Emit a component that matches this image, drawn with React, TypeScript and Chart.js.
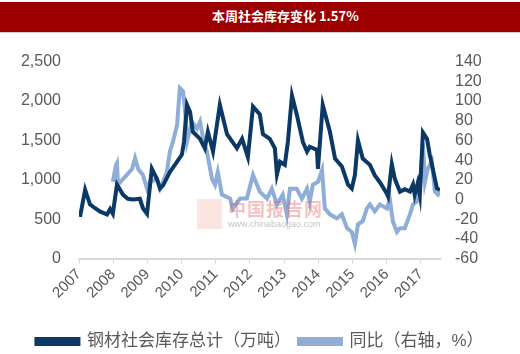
import React, { useEffect, useRef } from 'react';
import { Chart, registerables } from 'chart.js';

Chart.register(...registerables);

const titleText = '本周社会库存变化 1.57%';
const seriesNames = ['钢材社会库存总计（万吨）', '同比（右轴，%）'];
const yearTicks = [2007, 2008, 2009, 2010, 2011, 2012, 2013, 2014, 2015, 2016, 2017];

const stockDates = [
  2007.03, 2007.18, 2007.32, 2007.47, 2007.61, 2007.82, 2007.91, 2007.99,
  2008.11, 2008.29, 2008.43, 2008.58, 2008.78, 2008.87, 2008.99,
  2009.13, 2009.28, 2009.37, 2009.46, 2009.66, 2009.87, 2010.01, 2010.07,
  2010.16, 2010.25, 2010.33, 2010.54, 2010.68, 2010.77, 2010.92,
  2011.12, 2011.33, 2011.62, 2011.77, 2011.94,
  2012.09, 2012.29, 2012.38, 2012.58, 2012.73, 2012.79, 2012.88,
  2013.02, 2013.11, 2013.23, 2013.37, 2013.55, 2013.67, 2013.75, 2013.96, 2013.99,
  2014.13, 2014.34, 2014.49, 2014.69, 2014.87, 2014.98,
  2015.07, 2015.16, 2015.30, 2015.51, 2015.65, 2015.80,
  2016.01, 2016.04, 2016.15, 2016.24, 2016.39, 2016.53, 2016.68, 2016.77, 2016.82, 2016.91, 2016.97,
  2017.06, 2017.18, 2017.26, 2017.35, 2017.47, 2017.56,
];
const stockValues = [
  530, 875, 690, 640, 600, 560, 630, 570,
  940, 810, 760, 750, 760, 640, 570,
  1140, 1010, 890, 930, 1100, 1230, 1320, 1480,
  1950, 1860, 1610, 1520, 1400, 1610, 1360,
  1950, 1580, 1400, 1520, 1290,
  1930, 1830, 1580, 1520, 1400, 1070, 1230,
  1190, 1480, 2070, 1830, 1480, 1360, 1420, 1380, 1140,
  1950, 1610, 1270, 1170, 940, 890,
  1060, 1500, 1270, 1190, 1060, 970,
  820, 790, 1200, 1010, 850, 880, 850, 940, 810, 960, 810,
  1600, 1520, 1320, 1140, 890, 870,
];

const yoyDates = [
  2007.99, 2008.08, 2008.11, 2008.14, 2008.29, 2008.40, 2008.55, 2008.64, 2008.73, 2008.87, 2008.99,
  2009.08, 2009.28, 2009.37, 2009.46, 2009.57, 2009.66, 2009.75, 2009.87, 2009.95,
  2010.04, 2010.10, 2010.16, 2010.30, 2010.45, 2010.54, 2010.63, 2010.74, 2010.89, 2010.98,
  2011.06, 2011.18, 2011.42, 2011.50, 2011.71, 2011.91,
  2012.09, 2012.29, 2012.50, 2012.64, 2012.79, 2012.96,
  2013.08, 2013.17, 2013.37, 2013.52, 2013.67, 2013.75, 2013.84, 2013.99,
  2014.11, 2014.19, 2014.34, 2014.54, 2014.69, 2014.84, 2014.98,
  2015.07, 2015.16, 2015.30, 2015.42, 2015.51, 2015.65, 2015.80,
  2016.01, 2016.09, 2016.18, 2016.30, 2016.39, 2016.53, 2016.68, 2016.77, 2016.88, 2016.97,
  2017.06, 2017.12, 2017.20, 2017.32, 2017.41, 2017.50, 2017.56,
];
const yoyValues = [
  18, 35, 37, 15, 21, 25, 31, 42, 31, 25, 11,
  18, 21, 11, 18, 28, 49, 59, 76, 113,
  110, 92, 59, 79, 72, 79, 62, 49, 21, 15,
  28, 5, 1, -9, 1, 1,
  25, 8, 1, 11, -5, 5,
  -15, 11, 11, 1, 11, -2, 15, 18,
  30, -9, -15, -19, -15, -29, -33,
  -45, -25, -22, -9, -5, -12, -5,
  -9, 1, -22, -33, -29, -29, -15, -5, -2, 11,
  57, 18, 31, 39, 8, 5, 8,
];

const DARK = '#0c3866';
const LIGHT = '#8eaed8';
const TEXT = '#595959';
const FONT = "'Liberation Sans', Arial, 'Noto Sans CJK SC', sans-serif";

export default function App() {
  const ref = useRef<HTMLCanvasElement>(null);

  useEffect(() => {
    const chart = new Chart(ref.current as HTMLCanvasElement, {
      type: 'line',
      data: {
        datasets: [
          {
            label: seriesNames[0],
            data: stockDates.map((x, i) => ({ x, y: stockValues[i] })),
            borderColor: DARK,
            backgroundColor: DARK,
            borderWidth: 4,
            pointRadius: 0,
            tension: 0,
            yAxisID: 'y',
          },
          {
            label: seriesNames[1],
            data: yoyDates.map((x, i) => ({ x, y: yoyValues[i] })),
            borderColor: LIGHT,
            backgroundColor: LIGHT,
            borderWidth: 4,
            pointRadius: 0,
            tension: 0,
            yAxisID: 'y1',
          },
        ],
      },
      options: {
        animation: false,
        responsive: false,
        layout: { padding: { top: 26, left: 0, right: 0, bottom: -6 } },
        scales: {
          x: {
            type: 'linear',
            min: 2007,
            max: 2017.56,
            afterBuildTicks: (s: any) => {
              s.ticks = yearTicks.map((v) => ({ value: v }));
            },
            afterFit: (s: any) => {
              s.height = s.height + 21;
            },
            ticks: {
              minRotation: 45,
              maxRotation: 45,
              autoSkip: false,
              padding: 2,
              color: TEXT,
              font: { family: FONT, size: 15 },
              callback: (v: any) => String(v),
            },
            grid: { drawOnChartArea: false, drawTicks: true, tickLength: 5, color: '#d9d9d9', lineWidth: 1 },
            border: { color: '#d9d9d9', width: 2 },
          },
          y: {
            position: 'left',
            min: 0,
            max: 2500,
            ticks: {
              stepSize: 500,
              autoSkip: false,
              padding: 18,
              color: TEXT,
              font: { family: FONT, size: 16 },
              callback: (v: any) => Number(v).toLocaleString('en-US'),
            },
            grid: { display: false, drawTicks: false },
            border: { display: false },
            afterFit: (s: any) => {
              s.width = 79;
            },
          },
          y1: {
            position: 'right',
            min: -60,
            max: 140,
            ticks: {
              stepSize: 20,
              autoSkip: false,
              padding: 15,
              color: TEXT,
              font: { family: FONT, size: 16 },
            },
            grid: { display: false, drawTicks: false },
            border: { display: false },
            afterFit: (s: any) => {
              s.width = 80;
            },
          },
        },
        plugins: {
          legend: {
            position: 'bottom',
            labels: {
              boxWidth: 42,
              boxHeight: 5,
              padding: 8,
              color: TEXT,
              font: { family: FONT, size: 17 },
            },
          },
          tooltip: { enabled: false },
        },
      },
    });
    return () => chart.destroy();
  }, []);

  return (
    <div style={{ position: 'fixed', left: 0, top: 0, width: 520, height: 354, background: '#fff', overflow: 'hidden' }}>
      <div
        style={{
          position: 'absolute',
          left: 0,
          top: 2,
          width: 520,
          height: 30,
          background: '#9c0000',
          borderBottom: '1px solid #d0d0d0',
        }}
      >
        <div
          style={{
            position: 'absolute',
            left: 212,
            top: 6,
            color: '#fff',
            fontWeight: 'bold',
            fontSize: 13,
            lineHeight: '16px',
            fontFamily: "'Noto Sans CJK SC', sans-serif",
            whiteSpace: 'nowrap',
          }}
        >
          {titleText}
        </div>
      </div>
      <canvas ref={ref} width={520} height={320} style={{ position: 'absolute', left: 0, top: 34, width: 520, height: 320 }} />
      <div style={{ position: 'absolute', left: 197, top: 199, width: 25, height: 30, background: 'rgba(240,120,100,0.2)', pointerEvents: 'none' }} />
      <div
        style={{
          position: 'absolute',
          left: 228,
          top: 197,
          fontSize: 18,
          lineHeight: '22px',
          letterSpacing: 1,
          color: 'rgba(225,80,80,0.35)',
          fontFamily: "'Noto Sans CJK SC', sans-serif",
          fontWeight: 'bold',
          whiteSpace: 'nowrap',
          pointerEvents: 'none',
        }}
      >
        中国报告网
      </div>
      <div
        style={{
          position: 'absolute',
          left: 228,
          top: 219,
          fontSize: 9,
          lineHeight: '11px',
          color: 'rgba(120,120,120,0.45)',
          fontFamily: FONT,
          whiteSpace: 'nowrap',
          pointerEvents: 'none',
        }}
      >
        www.chinabaogao.com
      </div>
    </div>
  );
}
